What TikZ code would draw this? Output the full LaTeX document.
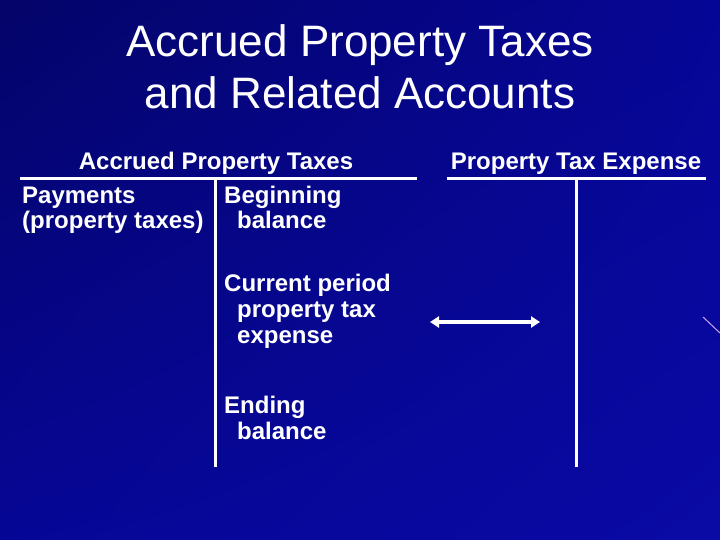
\documentclass[tikz,border=0pt]{standalone}
\usepackage{fontspec}
\setmainfont{Liberation Sans}
\usetikzlibrary{arrows.meta,shadings}

\definecolor{bgdark}{RGB}{4,4,105}
\definecolor{bgmid}{RGB}{6,6,150}
\definecolor{bglight}{RGB}{10,10,165}
\definecolor{streak}{RGB}{200,165,235}

\tikzset{
  titletext/.style={text=white, inner sep=0pt, anchor=base, font=\fontsize{44}{52}\selectfont},
  entry/.style={text=white, inner sep=0pt, anchor=base west, font=\fontsize{24}{26}\selectfont\bfseries},
  acchead/.style={text=white, inner sep=0pt, anchor=base, font=\fontsize{24}{26}\selectfont\bfseries},
  tline/.style={draw=white, line width=3pt},
}

\begin{document}
\begin{tikzpicture}[x=1pt, y=-1pt]

      % background
      \useasboundingbox (0,0) rectangle (720,540);
      \shade[upper left=bgdark, upper right=bgmid, lower left=bgmid, lower right=bglight]
        (0,0) rectangle (720,540);
      \draw[streak, line width=1pt] (703,317) -- (720,333);

      % title
      \node[titletext] (title1) at (360,57)  {Accrued Property Taxes};
      \node[titletext] (title2) at (360,109) {and Related Accounts};

      % account headings
      \node[acchead] (acc)  at (216,170) {Accrued Property Taxes};
      \node[acchead] (exp)  at (576,170) {Property Tax Expense};

      % T-account frames
      \coordinate (accL) at (20,179);
      \coordinate (accR) at (417,179);
      \coordinate (accT) at (215,179);
      \coordinate (accB) at (215,467);
      \coordinate (expL) at (447,179);
      \coordinate (expR) at (706,179);
      \coordinate (expT) at (576,179);
      \coordinate (expB) at (576,467);

      \draw[tline] (accL) -- (accR);
      \draw[tline] (accT) -- (accB);
      \draw[tline] (expL) -- (expR);
      \draw[tline] (expT) -- (expB);

      % entries
      \node[entry] (pay1) at (22,204)  {Payments};
      \node[entry] (pay2) at (22,229)  {(property taxes)};
      \node[entry] (beg1) at (224,204) {Beginning};
      \node[entry] (beg2) at (237,229) {balance};
      \node[entry] (cur1) at (224,291) {Current period};
      \node[entry] (cur2) at (237,317) {property tax};
      \node[entry] (cur3) at (237,343) {expense};
      \node[entry] (end1) at (224,413) {Ending};
      \node[entry] (end2) at (237,439) {balance};

      % link between accounts
      \coordinate (linkL) at (430,322);
      \coordinate (linkR) at (540,322);
      \draw[white, line width=3.5pt, {Triangle[width=11pt,length=9pt]}-{Triangle[width=11pt,length=9pt]}]
        (linkL) -- (linkR);

    \end{tikzpicture}
\end{document}
